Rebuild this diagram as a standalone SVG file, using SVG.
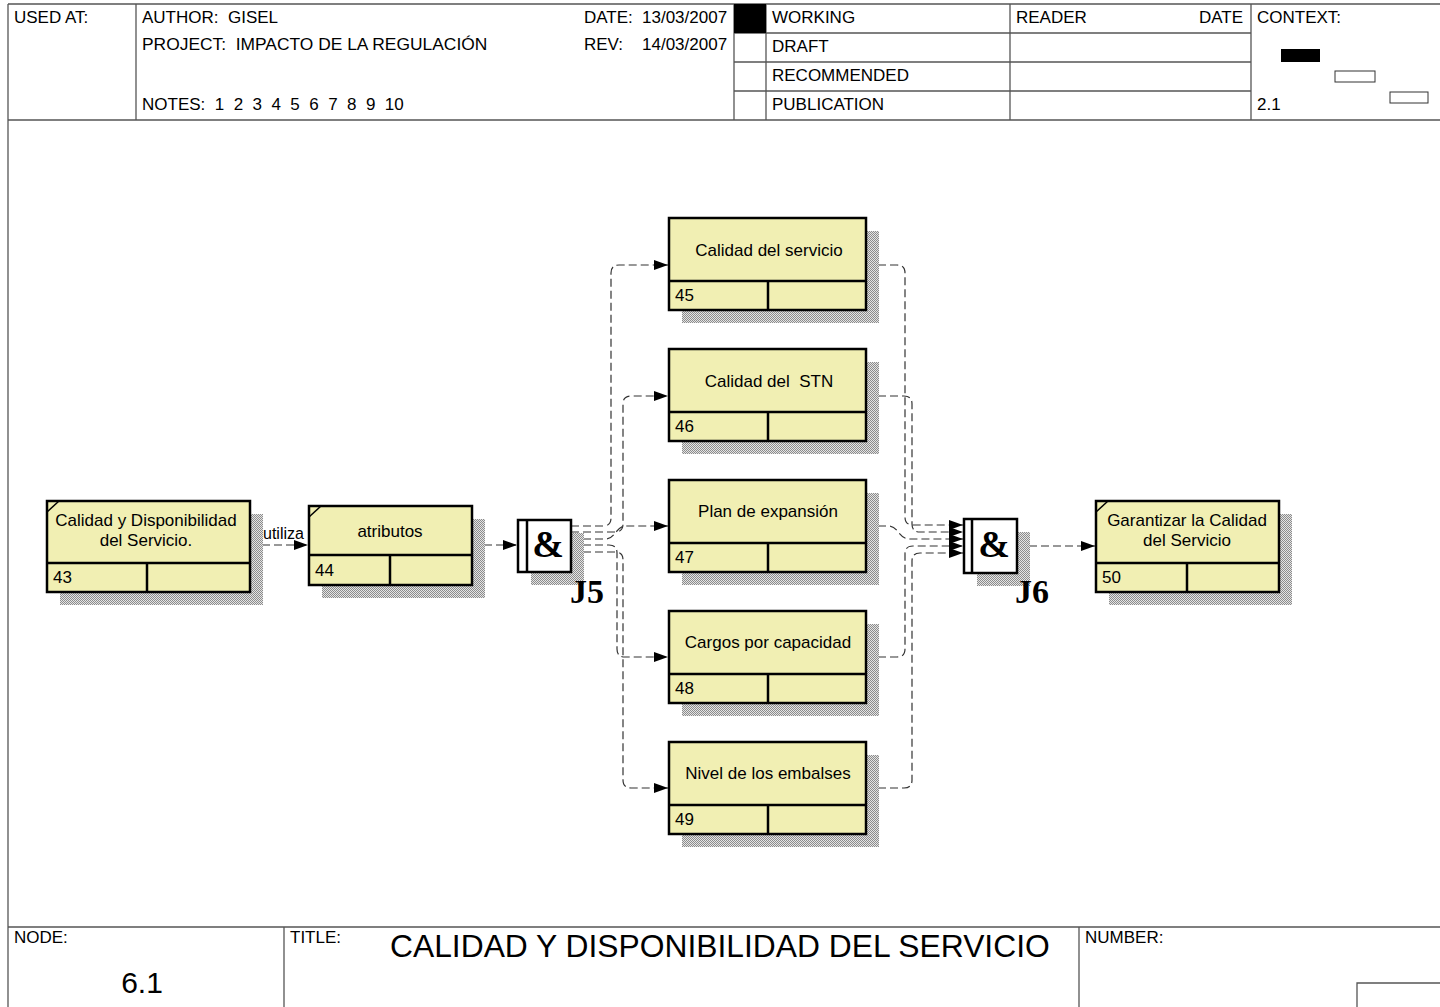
<svg xmlns="http://www.w3.org/2000/svg" width="1440" height="1007" viewBox="0 0 1440 1007">
<style>
text{font-family:"Liberation Sans",Arial,sans-serif;fill:#000;white-space:pre}
.h{font-size:17px}
.b{font-size:17px}
.frame{stroke:#555;stroke-width:1.3;fill:none}
.box{fill:#F1EFB3;stroke:#000;stroke-width:2.5}
.div{stroke:#000;stroke-width:2.5;fill:none}
.sh{fill:url(#hatch)}
.con{fill:none;stroke:#333;stroke-width:1.2;stroke-dasharray:8 4}
.jbox{fill:#fff;stroke:#000;stroke-width:2.5}
.amp{font-family:"Liberation Serif","Times New Roman",serif;font-weight:bold;font-size:38px;text-anchor:middle}
.jl{font-family:"Liberation Serif","Times New Roman",serif;font-weight:bold;font-size:34px}
</style>
<defs>
<pattern id="hatch" width="2" height="2" patternUnits="userSpaceOnUse">
<rect width="2" height="2" fill="#e4e4e4"/>
<rect width="1" height="1" fill="#8c8c8c"/>
<rect x="1" y="1" width="1" height="1" fill="#8c8c8c"/>
</pattern>
<marker id="arr" viewBox="0 0 14 10" refX="14" refY="5" markerWidth="14" markerHeight="10" markerUnits="userSpaceOnUse" orient="auto">
<path d="M0,0 L14,5 L0,10 z" fill="#000" stroke="none"/>
</marker>
</defs>
<rect width="1440" height="1007" fill="#fff"/>
<g id="frame">
<line class="frame" x1="8" y1="4" x2="1440" y2="4"/>
<line class="frame" x1="8" y1="4" x2="8" y2="1007"/>
<line class="frame" x1="8" y1="120" x2="1440" y2="120"/>
<line class="frame" x1="136" y1="4" x2="136" y2="120"/>
<line class="frame" x1="734" y1="4" x2="734" y2="120"/>
<line class="frame" x1="766" y1="4" x2="766" y2="120"/>
<line class="frame" x1="1010" y1="4" x2="1010" y2="120"/>
<line class="frame" x1="1251" y1="4" x2="1251" y2="120"/>
<line class="frame" x1="734" y1="33" x2="1251" y2="33"/>
<line class="frame" x1="734" y1="62" x2="1251" y2="62"/>
<line class="frame" x1="734" y1="91" x2="1251" y2="91"/>
<rect x="734" y="4" width="32" height="29" fill="#000"/>
<rect x="1281" y="49" width="39" height="13" fill="#000"/>
<rect x="1335" y="71" width="40" height="11" fill="#fff" stroke="#333" stroke-width="1"/>
<rect x="1390" y="92" width="38" height="11" fill="#fff" stroke="#333" stroke-width="1"/>
<text class="h" x="14" y="23">USED AT:</text>
<text class="h" x="142" y="23">AUTHOR:  GISEL</text>
<text x="142" y="50" style="font-size:17.4px">PROJECT:  IMPACTO DE LA REGULACIÓN</text>
<text class="h" x="142" y="110">NOTES:  1  2  3  4  5  6  7  8  9  10</text>
<text class="h" x="584" y="23">DATE:</text>
<text class="h" x="642" y="23">13/03/2007</text>
<text class="h" x="584" y="50">REV:</text>
<text class="h" x="642" y="50">14/03/2007</text>
<text class="h" x="772" y="23">WORKING</text>
<text class="h" x="772" y="52">DRAFT</text>
<text class="h" x="772" y="81">RECOMMENDED</text>
<text class="h" x="772" y="110">PUBLICATION</text>
<text class="h" x="1016" y="23">READER</text>
<text class="h" x="1243" y="23" text-anchor="end">DATE</text>
<text class="h" x="1257" y="23">CONTEXT:</text>
<text class="h" x="1257" y="110">2.1</text>
<line class="frame" x1="8" y1="927" x2="1440" y2="927"/>
<line class="frame" x1="284" y1="927" x2="284" y2="1007"/>
<line class="frame" x1="1079" y1="927" x2="1079" y2="1007"/>
<polyline class="frame" points="1440,983 1357,983 1357,1007"/>
<text class="h" x="14" y="943">NODE:</text>
<text x="142" y="993" font-size="30" text-anchor="middle">6.1</text>
<text class="h" x="290" y="943">TITLE:</text>
<text x="390" y="957" font-size="31.8">CALIDAD Y DISPONIBILIDAD DEL SERVICIO</text>
<text class="h" x="1085" y="943">NUMBER:</text>
</g>
<g id="connectors">
<path class="con" d="M250,545 H308" marker-end="url(#arr)"/>
<text x="263" y="539" font-size="16">utiliza</text>
<path class="con" d="M472,545 H517" marker-end="url(#arr)"/>
<path class="con" d="M571,526 H603 Q611,526 611,518 V273 Q611,265 619,265 H668" marker-end="url(#arr)"/>
<path class="con" d="M571,532 H615 Q623,532 623,524 V404 Q623,396 631,396 H668" marker-end="url(#arr)"/>
<path class="con" d="M571,539 H606 C615,539 616,526 626,526 H668" marker-end="url(#arr)"/>
<path class="con" d="M571,545 H609 Q617,545 617,553 V649 Q617,657 625,657 H668" marker-end="url(#arr)"/>
<path class="con" d="M571,552 H615 Q623,552 623,560 V780 Q623,788 631,788 H668" marker-end="url(#arr)"/>
<path class="con" d="M866,265 H897 Q905,265 905,273 V517 Q905,525 913,525 H963" marker-end="url(#arr)"/>
<path class="con" d="M866,396 H904 Q912,396 912,404 V524 Q912,532 920,532 H963" marker-end="url(#arr)"/>
<path class="con" d="M866,526 H888 C899,526 898,539 910,539 H963" marker-end="url(#arr)"/>
<path class="con" d="M866,657 H897 Q905,657 905,649 V554 Q905,546 913,546 H963" marker-end="url(#arr)"/>
<path class="con" d="M866,788 H904 Q912,788 912,780 V561 Q912,553 920,553 H963" marker-end="url(#arr)"/>
<path class="con" d="M1017,546 H1095" marker-end="url(#arr)"/>
</g>
<g id="n43">
<rect class="sh" x="60" y="514" width="203" height="91"/>
<rect class="box" x="47" y="501" width="203" height="91"/>
<line class="div" x1="47" y1="563" x2="250" y2="563"/>
<line class="div" x1="147" y1="563" x2="147" y2="592"/>
<line x1="47" y1="512" x2="59" y2="501" stroke="#000" stroke-width="1.5"/>
<text class="b" x="146" y="526" text-anchor="middle">Calidad y Disponibilidad</text>
<text class="b" x="146" y="546" text-anchor="middle">del Servicio.</text>
<text class="b" x="53" y="583">43</text>
</g>
<g id="n44">
<rect class="sh" x="322" y="519" width="163" height="79"/>
<rect class="box" x="309" y="506" width="163" height="79"/>
<line class="div" x1="309" y1="555" x2="472" y2="555"/>
<line class="div" x1="390" y1="555" x2="390" y2="585"/>
<line x1="309" y1="517" x2="321" y2="506" stroke="#000" stroke-width="1.5"/>
<text class="b" x="390" y="537" text-anchor="middle">atributos</text>
<text class="b" x="315" y="576">44</text>
</g>
<g id="J5">
<rect class="sh" x="531" y="533" width="53" height="52"/>
<rect class="jbox" x="518" y="520" width="53" height="52"/>
<line class="div" x1="527" y1="520" x2="527" y2="572"/>
<text class="amp" x="548" y="557">&amp;</text>
<text class="jl" x="570" y="603">J5</text>
</g>
<g id="n45">
<rect class="sh" x="682" y="231" width="197" height="92"/>
<rect class="box" x="669" y="218" width="197" height="92"/>
<line class="div" x1="669" y1="281" x2="866" y2="281"/>
<line class="div" x1="768" y1="281" x2="768" y2="310"/>
<text class="b" x="769" y="256" text-anchor="middle">Calidad del servicio</text>
<text class="b" x="675" y="301">45</text>
</g>
<g id="n46">
<rect class="sh" x="682" y="362" width="197" height="92"/>
<rect class="box" x="669" y="349" width="197" height="92"/>
<line class="div" x1="669" y1="412" x2="866" y2="412"/>
<line class="div" x1="768" y1="412" x2="768" y2="441"/>
<text class="b" x="769" y="387" text-anchor="middle">Calidad del  STN</text>
<text class="b" x="675" y="432">46</text>
</g>
<g id="n47">
<rect class="sh" x="682" y="493" width="197" height="92"/>
<rect class="box" x="669" y="480" width="197" height="92"/>
<line class="div" x1="669" y1="543" x2="866" y2="543"/>
<line class="div" x1="768" y1="543" x2="768" y2="572"/>
<text class="b" x="768" y="517" text-anchor="middle">Plan de expansión</text>
<text class="b" x="675" y="563">47</text>
</g>
<g id="n48">
<rect class="sh" x="682" y="624" width="197" height="92"/>
<rect class="box" x="669" y="611" width="197" height="92"/>
<line class="div" x1="669" y1="674" x2="866" y2="674"/>
<line class="div" x1="768" y1="674" x2="768" y2="703"/>
<text class="b" x="768" y="648" text-anchor="middle">Cargos por capacidad</text>
<text class="b" x="675" y="694">48</text>
</g>
<g id="n49">
<rect class="sh" x="682" y="755" width="197" height="92"/>
<rect class="box" x="669" y="742" width="197" height="92"/>
<line class="div" x1="669" y1="805" x2="866" y2="805"/>
<line class="div" x1="768" y1="805" x2="768" y2="834"/>
<text class="b" x="768" y="779" text-anchor="middle">Nivel de los embalses</text>
<text class="b" x="675" y="825">49</text>
</g>
<g id="J6">
<rect class="sh" x="977" y="532" width="53" height="54"/>
<rect class="jbox" x="964" y="519" width="53" height="54"/>
<line class="div" x1="972" y1="519" x2="972" y2="573"/>
<text class="amp" x="994" y="557">&amp;</text>
<text class="jl" x="1015" y="603">J6</text>
</g>
<g id="n50">
<rect class="sh" x="1109" y="514" width="183" height="91"/>
<rect class="box" x="1096" y="501" width="183" height="91"/>
<line class="div" x1="1096" y1="563" x2="1279" y2="563"/>
<line class="div" x1="1187" y1="563" x2="1187" y2="592"/>
<line x1="1096" y1="512" x2="1108" y2="501" stroke="#000" stroke-width="1.5"/>
<text class="b" x="1187" y="526" text-anchor="middle">Garantizar la Calidad</text>
<text class="b" x="1187" y="546" text-anchor="middle">del Servicio</text>
<text class="b" x="1102" y="583">50</text>
</g>
</svg>
